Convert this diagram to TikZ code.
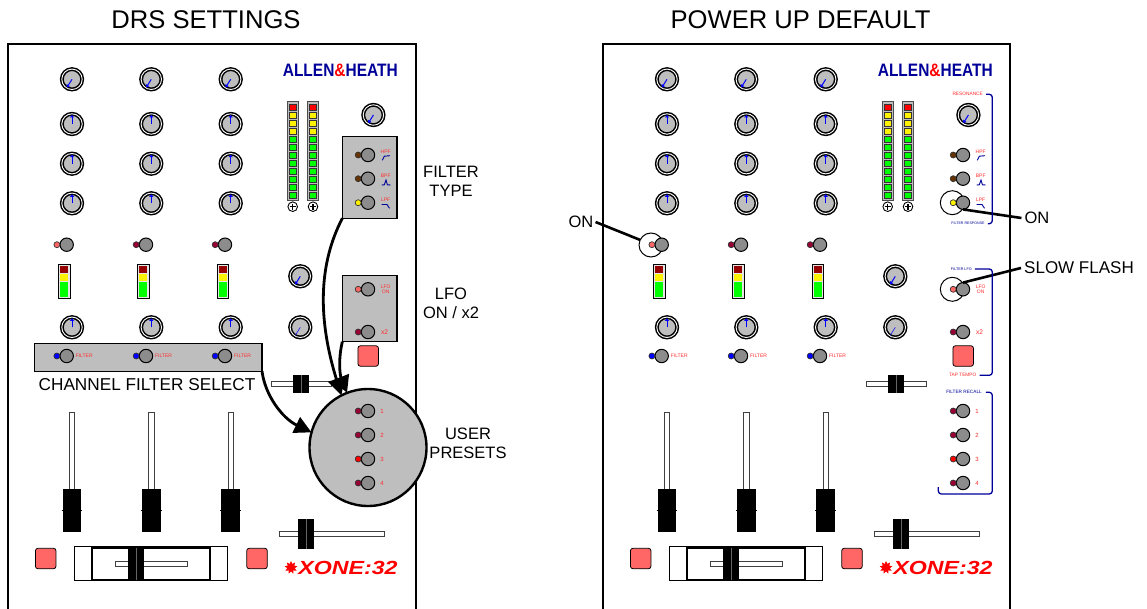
\documentclass[tikz,border=0pt]{standalone}
\usepackage{fontspec}
\setmainfont{Liberation Sans}
\usetikzlibrary{positioning,calc,arrows.meta,shapes.geometric}
\definecolor{panelgray}{HTML}{BEBEBE}
\definecolor{btngray}{HTML}{8C8C8C}
\definecolor{tapred}{HTML}{FF6666}
\definecolor{labelred}{HTML}{FF2A2A}
\definecolor{ledoff}{HTML}{990033}
\definecolor{ledbrown}{HTML}{663300}
\definecolor{navy}{HTML}{000099}
\tikzset{
  knob/.style={draw=black, circle, fill=panelgray, line width=1.5pt, double=white, double distance=.9pt, minimum size=20.4pt, inner sep=0pt, outer sep=0pt},
  pointer/.style={blue, line width=1pt, -{Triangle[length=2.5pt,width=4pt]}},
  btn/.style={draw=black, circle, fill=btngray, line width=1pt, minimum size=13.4pt, inner sep=0pt, outer sep=0pt},
  led/.style={draw=black!80, circle, line width=.7pt, minimum size=6pt, inner sep=0pt, outer sep=0pt},
  tiny/.style={text=labelred, font=\fontsize{5}{5.8}\selectfont, inner sep=0pt, align=center},
  tinyblue/.style={text=navy, inner sep=0pt},
  call/.style={font=\fontsize{16.5}{19}\selectfont, align=center},
  title/.style={font=\fontsize{25.6}{28}\selectfont},
  panel/.style={draw=black, fill=panelgray, line width=1.3pt, inner sep=0pt, outer sep=0pt},
  tapbtn/.style={draw=black, fill=tapred, rounded corners=2.5pt, line width=.8pt, minimum width=20.5pt, minimum height=20.5pt, inner sep=0pt},
  hilite/.style={draw=black, fill=white, circle, line width=1pt, minimum size=24pt, inner sep=0pt, outer sep=0pt},
  slot/.style={draw=black!75, fill=white, line width=1pt},
  pointerleader/.style={black, line width=2.6pt},
  arrowline/.style={black, line width=2.8pt, -{Triangle[length=17pt,width=17pt]}},
  bracket/.style={navy, line width=1.3pt, rounded corners=3pt},
  icon/.style={navy, line width=.9pt},
}
\begin{document}
\begin{tikzpicture}[x=1pt,y=-1pt]
\useasboundingbox (0,0) rectangle (1147,609);

\draw[black, line width=1.8pt] (8,609) -- (8,44) -- (416,44) -- (416,609);
\draw[black, line width=1.8pt] (603,609) -- (603,44) -- (1010,44) -- (1010,609);

\node[panel, minimum width=227.7pt, minimum height=27.6pt] (chansel) at (148.2,357.5) {};
\node[panel, minimum width=54.7pt, minimum height=82pt] (filtype) at (369.7,177.3) {};
\node[panel, minimum width=54.7pt, minimum height=66.4pt] (lfopanel) at (369.7,308.5) {};
\node[panel, circle, line width=2.4pt, minimum size=117pt] (presets) at (368,447.5) {};

\node[hilite] (onled) at (651,245) {};
\node[hilite] (onlpf) at (952.3,202.7) {};
\node[hilite] (onlfo) at (952.3,289.3) {};

\foreach \px in {0,595} {
\begin{scope}[xshift=\px pt]
\node[font=\bfseries\fontsize{18}{18}\selectfont, text=navy, xscale=.86, transform shape, inner sep=0pt] (logo\px) at (340.3,70.3) {ALLEN\textcolor{red}{\&}HEATH};

\foreach \kx/\kc in {72/a,151.3/b,230.7/c} {
  \node[knob] (kt\kc) at (\kx,79.3) {};
  \draw[pointer] (kt\kc.center) -- ++(-5,8);
  \foreach \ky/\kr in {124/p,163.7/q,203.3/r,327.3/s} {
    \node[knob] (k\kr\kc) at (\kx,\ky) {};
    \draw[pointer] (k\kr\kc.center) -- ++(0,-9);
  }
}

\node[knob] (reso\px) at (373.4,115) {};
\draw[pointer] (reso\px.center) -- ++(-5,8);
\node[knob] (lfoa\px) at (300.3,276.3) {};
\draw[pointer] (lfoa\px.center) -- ++(-5,8);
\node[knob] (lfob\px) at (300.3,327.3) {};
\draw[blue, line width=.5pt] (lfob\px.center) -- ++(-5,8);

\foreach \mx in {287,307.3} {
  \draw[draw=black!70, fill=panelgray, line width=.9pt] (\mx,101.7) rectangle ++(11.4,98.3);
  \foreach \mi in {0,...,11} {
    \pgfmathsetmacro{\my}{103.9+8*\mi}
    \ifnum\mi=0 \def\mc{red}\else\ifnum\mi<4 \def\mc{yellow}\else\def\mc{green}\fi\fi
    \draw[draw=black!80, fill=\mc, line width=.5pt] (\mx+2.2,\my) rectangle ++(7,6.8);
  }
  \draw[black, fill=white, line width=.9pt] (\mx+5.7,206.7) circle (4.8pt);
  \draw[black, line width=1.2pt] (\mx+2.7,206.7) -- (\mx+8.7,206.7);
  \draw[black, line width=1.2pt] (\mx+5.7,203.7) -- (\mx+5.7,209.7);
}

\foreach \bx/\bc/\lc in {66.7/a/tapred,146/b/ledoff,225/c/ledoff} {
  \node[btn] (chan\bc\px) at (\bx,244.7) {};
  \node[led, fill=\lc, left=.1pt of chan\bc\px] (chanled\bc\px) {};
  \node[btn] (sel\bc\px) at (\bx,356) {};
  \node[led, fill=blue, left=.1pt of sel\bc\px] (selled\bc\px) {};
  \node[tiny, right=2.2pt of sel\bc\px] (seltxt\bc\px) {FILTER};
}

\foreach \gx in {58.3,137.4,217} {
  \draw[draw=black, fill=panelgray!40, line width=.8pt] (\gx,264) rectangle ++(11.8,34.7);
  \fill[fill={rgb,255:red,150;green,0;blue,0}] (\gx+1.9,265.8) rectangle ++(8,7.6);
  \fill[yellow] (\gx+1.9,273.9) rectangle ++(8,7.4);
  \fill[green] (\gx+1.9,281.8) rectangle ++(8,15.4);
}

\foreach \fx in {72,151.3,230.7} {
  \draw[slot] (\fx-2.7,412) rectangle ++(5.4,100);
  \fill[black] (\fx-9.4,489.3) rectangle ++(18.8,42.4);
  \draw[black, line width=1pt] (\fx-10.4,510.7) -- (\fx+10.4,510.7);
}

\draw[black, line width=1pt] (74.7,546.7) rectangle (227.7,580.7);
\draw[black, line width=2pt] (92.3,548) rectangle (210.3,579.5);
\draw[slot] (115.3,561) rectangle (187.3,566.3);
\fill[black] (128,548) rectangle (144,580);
\draw[black!60, line width=.3pt] (136,548) -- (136,580);

\node[tapbtn] (tapa\px) at (45.7,558.5) {};
\node[tapbtn] (tapb\px) at (257,558.5) {};
\node[tapbtn] (tapc\px) at (368.2,356) {};

\draw[slot] (279,531) rectangle (384.3,536.3);
\fill[black] (298.3,518.7) rectangle (314,549.3);
\draw[black!60, line width=.3pt] (306.2,518.7) -- (306.2,549.3);

\draw[slot] (271.7,381) rectangle (331,386);
\fill[black] (293,375) rectangle (308.7,392.7);
\draw[black!60, line width=.3pt] (300.8,375) -- (300.8,392.7);

\node[star, star points=9, star point ratio=1.7, fill=red, minimum size=13pt, inner sep=0pt] (leaf\px) at (291,567.5) {};
\node[font=\bfseries\itshape\fontsize{19}{19}\selectfont, text=red, xscale=1.22, transform shape, inner sep=0pt] (xone\px) at (348,567.5) {XONE:32};

\foreach \ly/\ln/\lt in {155/hpf/HPF,178.7/bpf/BPF,202.7/lpf/LPF} {
  \node[btn] (\ln\px) at (368,\ly) {};
  \node[tiny] (\ln txt\px) at (385.7,\ly-3.2) {\lt};
}
\node[led, fill=ledbrown, left=.1pt of hpf\px] (hpfled\px) {};
\node[led, fill=ledbrown, left=.1pt of bpf\px] (bpfled\px) {};
\node[led, fill=yellow, left=.1pt of lpf\px] (lpfled\px) {};
\draw[icon] (382.3,160.3) -- (384.3,156.2) -- (390,155.7);
\draw[icon] (381.7,185) -- (384.3,184.8) -- (386,180) -- (387.4,184.8) -- (390.7,185);
\draw[icon] (381.7,204.5) -- (387,204.5) -- (389.5,208.3);

\node[btn] (lfo\px) at (368,289.3) {};
\node[led, fill=tapred, left=.1pt of lfo\px] (lfoled\px) {};
\node[tiny] (lfotxt\px) at (385.7,289.3) {LFO\\ON};
\node[btn] (xtwo\px) at (368,332) {};
\node[led, fill=ledoff, left=.1pt of xtwo\px] (xtwoled\px) {};
\node[tiny, font=\fontsize{6.6}{7}\selectfont] (xtwotxt\px) at (384.6,332) {x2};

\foreach \py/\pn/\pc in {411/1/ledoff,435/2/ledoff,459/3/red,483/4/ledoff} {
  \node[btn] (rec\pn\px) at (368,\py) {};
  \node[led, fill=\pc, left=.1pt of rec\pn\px] (recled\pn\px) {};
  \node[tiny, font=\fontsize{6}{6}\selectfont] (rectxt\pn\px) at (382,\py) {\pn};
}
\end{scope}
}

\node[title] (drs) at (206,20) {DRS SETTINGS};
\node[title] (powerup) at (800.5,20) {POWER UP DEFAULT};
\node[font=\fontsize{17.2}{19}\selectfont, inner sep=0pt] (chantxt) at (147,384.5) {CHANNEL FILTER SELECT};
\node[call] (filtertxt) at (451,181) {FILTER\\TYPE};
\node[call] (lfocall) at (451,303.5) {LFO\\ON / x2};
\node[call] (usertxt) at (468,443.5) {USER\\PRESETS};

\node[call, inner sep=2pt] (onleft) at (581,222) {ON};
\node[call, inner sep=3pt] (onright) at (1037,218) {ON};
\node[call, font=\fontsize{17}{19}\selectfont, inner sep=3pt, anchor=west] (slowflash) at (1021,268) {SLOW FLASH};

\draw[pointerleader] (onled.155) -- (onleft.east);
\draw[pointerleader] (lpf595.south) -- (onright.west);
\draw[pointerleader] (lfo595.north) -- (slowflash.west);

\node[tiny, font=\fontsize{4.8}{5}\selectfont] (resotxt) at (967.7,94.3) {RESONANCE};
\node[tinyblue, font=\fontsize{3.6}{4}\selectfont] (resptxt) at (968,223.7) {FILTER RESPONSE};
\node[tinyblue, font=\fontsize{3.7}{4}\selectfont] (lfotitle) at (961.3,269) {FILTER LFO};
\node[tiny, font=\fontsize{4.8}{5}\selectfont] (taptxt) at (962.7,375.3) {TAP TEMPO};
\node[tinyblue, font=\fontsize{4.7}{5}\selectfont] (recalltxt) at (964,392.3) {FILTER RECALL};

\draw[bracket] ($(resotxt.east)+(3,0)$) -- (992.3,94.3) -- (992.3,223.7) -- ($(resptxt.east)+(3,0)$);
\draw[bracket] ($(lfotitle.east)+(3,0)$) -- (992.3,269) -- (992.3,375.3) -- ($(taptxt.east)+(3,0)$);
\draw[bracket] ($(recalltxt.east)+(4,0)$) -- (992.3,392.3) -- (992.3,494) -- (938.3,494) -- (938.3,487);

\draw[arrowline] (filtype.south west) .. controls (318,265) and (318,320) .. (presets.117);
\draw[arrowline] (lfopanel.south west) .. controls (338,360) and (340,375) .. (presets.111);
\draw[arrowline] (chansel.south east) .. controls (265,395) and (282,418) .. (presets.165);
\end{tikzpicture}
\end{document}
